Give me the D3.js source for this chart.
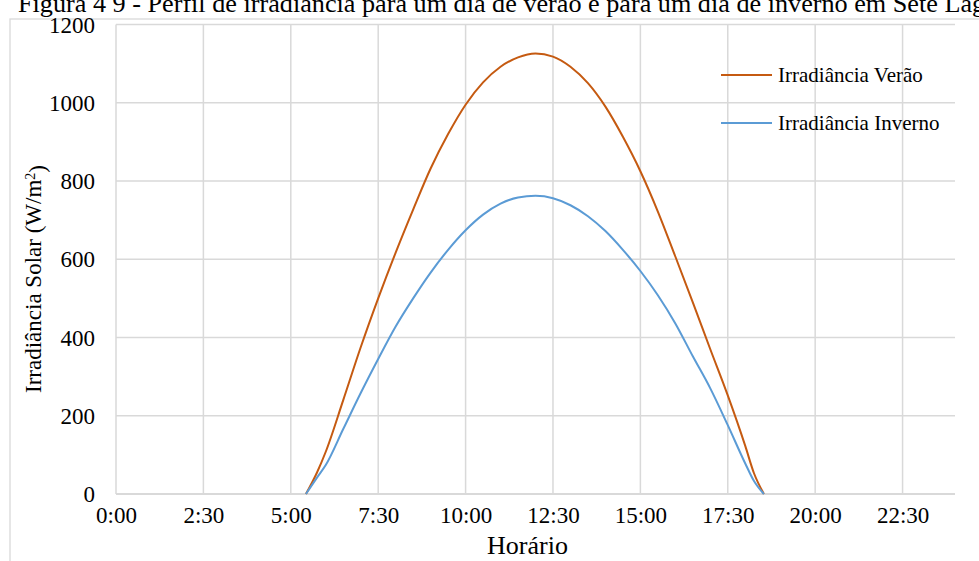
<!DOCTYPE html>
<html>
<head>
<meta charset="utf-8">
<script src="https://cdn.jsdelivr.net/npm/d3@7"></script>
<style>
  html, body { margin: 0; padding: 0; background: #fff; overflow: hidden; }
  svg { display: block; }
  text { font-family: "Liberation Serif", "Times New Roman", serif; fill: #000; }
</style>
</head>
<body>
<svg id="chart" width="979" height="561"></svg>
<script>
// ---- Data (minutes after midnight) ----
const timeMinutes = [326, 345, 360, 390, 420, 450, 480, 510, 540, 570, 600, 630, 660, 690, 720, 750, 780, 810, 840, 870, 900, 930, 960, 990, 1020, 1050, 1080, 1095, 1112];
const summerValues = [0, 55, 108, 240, 375, 500, 617, 727, 832, 920, 995, 1052, 1092, 1116, 1126, 1118, 1092, 1050, 990, 913, 825, 722, 607, 490, 370, 252, 123, 53, 0];
const winterValues = [0, 42, 74, 166, 258, 345, 428, 500, 566, 624, 674, 714, 742, 758, 762, 756, 738, 710, 672, 624, 570, 508, 436, 352, 270, 176, 78, 33, 0];
const seriesNames = ["Irradiância Verão", "Irradiância Inverno"];
const xTickMinutes = [0, 150, 300, 450, 600, 750, 900, 1050, 1200, 1350];
const xTickLabels = ["0:00", "2:30", "5:00", "7:30", "10:00", "12:30", "15:00", "17:30", "20:00", "22:30"];
const yTicks = [0, 200, 400, 600, 800, 1000, 1200];
const titleText = "Figura 4 9 - Perfil de irradiância para um dia de verão e para um dia de inverno em Sete Lagoas";
const xTitle = "Horário";

const colors = ["#C55A11", "#5B9BD5"];

const svg = d3.select("#chart");
const pLeft = 116, pRight = 955, pTop = 24.5, pBottom = 494;

const x = d3.scaleLinear().domain([0, 1440]).range([pLeft, pRight]);
const y = d3.scaleLinear().domain([0, 1200]).range([pBottom, pTop]);

// Title (clipped at top like the source)
svg.append("text").attr("x", 18).attr("y", 11.5)
  .style("font-size", "26.2px").text(titleText);

// Frame
svg.append("rect").attr("x", 10).attr("y", 19).attr("width", 1000).attr("height", 600)
  .attr("fill", "none").attr("stroke", "#d9d9d9").attr("stroke-width", 1.3);

// Horizontal gridlines
svg.append("g").selectAll("line").data(yTicks.filter(d => d > 0)).join("line")
  .attr("x1", pLeft).attr("x2", pRight)
  .attr("y1", d => y(d)).attr("y2", d => y(d))
  .attr("stroke", "#d9d9d9").attr("stroke-width", 1.5);

// Vertical gridlines
svg.append("g").selectAll("line").data(xTickMinutes).join("line")
  .attr("x1", d => x(d)).attr("x2", d => x(d))
  .attr("y1", pTop).attr("y2", pBottom)
  .attr("stroke", "#d9d9d9").attr("stroke-width", 1.5);

// X axis line
svg.append("line").attr("x1", pLeft).attr("x2", pRight).attr("y1", pBottom).attr("y2", pBottom)
  .attr("stroke", "#d9d9d9").attr("stroke-width", 2);

// Y axis (labels only) via d3 axis
const yAxis = d3.axisLeft(y).tickValues(yTicks).tickSize(0).tickPadding(0).tickFormat(d3.format("d"));
const gy = svg.append("g").attr("transform", `translate(${pLeft - 21},0)`).call(yAxis);
gy.select(".domain").remove();
gy.selectAll("text").style("font-size", "23px").attr("font-family", null).attr("fill", "#000").attr("dy", "0.33em");

// X axis labels via d3 axis
const xAxis = d3.axisBottom(x).tickValues(xTickMinutes).tickSize(0).tickPadding(0)
  .tickFormat((d, i) => xTickLabels[i]);
const gx = svg.append("g").attr("transform", `translate(0,${pBottom + 13})`).call(xAxis);
gx.select(".domain").remove();
gx.selectAll("text").style("font-size", "23px").attr("font-family", null).attr("fill", "#000").attr("dy", "0.71em");

// Axis titles
svg.append("text").attr("x", 527.5).attr("y", 554)
  .attr("text-anchor", "middle").style("font-size", "26px").text(xTitle);

const yt = svg.append("text").attr("text-anchor", "middle")
  .attr("transform", `translate(41,279) rotate(-90)`)
  .style("font-size", "23px");
yt.append("tspan").text("Irradiância Solar (W/m");
yt.append("tspan").attr("dy", "-0.45em").style("font-size", "14px").text("2");
yt.append("tspan").attr("dy", "0.45em").text(")");

// Lines
const line = d3.line().x((d, i) => x(timeMinutes[i])).y(d => y(d)).curve(d3.curveMonotoneX);
[summerValues, winterValues].forEach((vals, k) => {
  svg.append("path").datum(vals).attr("d", line)
    .attr("fill", "none").attr("stroke", colors[k]).attr("stroke-width", 2)
    .attr("stroke-linejoin", "round");
});

// Legend
const legendY = [75, 123];
seriesNames.forEach((name, k) => {
  svg.append("line").attr("x1", 721).attr("x2", 772).attr("y1", legendY[k]).attr("y2", legendY[k])
    .attr("stroke", colors[k]).attr("stroke-width", 2);
  svg.append("text").attr("x", 778).attr("y", legendY[k]).attr("dy", "0.33em")
    .style("font-size", "21px").text(name);
});
</script>
</body>
</html>
